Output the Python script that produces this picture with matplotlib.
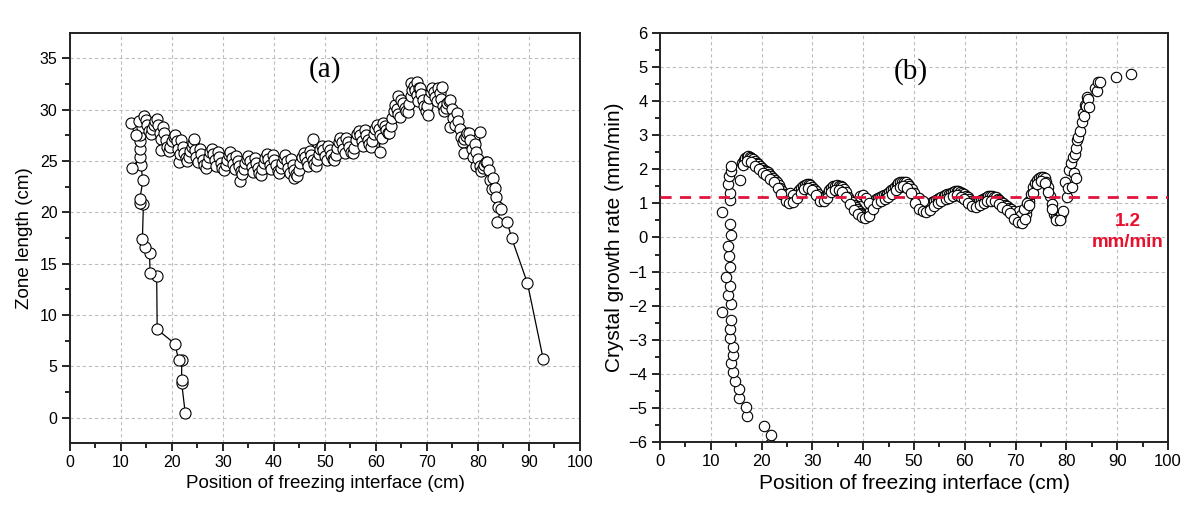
import matplotlib
matplotlib.use("Agg")
import matplotlib.pyplot as plt
from matplotlib.ticker import MultipleLocator

# ---- panel (a): zone length vs position of freezing interface (path order) ----
# left branch (bottom -> top)
zone_x = [22.6, 21.9, 21.9, 21.9, 21.3, 20.6, 17.1, 17.0, 15.7, 15.6, 14.7, 14.2,
          14.4, 13.8, 13.7, 14.3, 13.9, 12.1, 13.8, 13.8, 13.7, 13.7, 13.4, 14.2,
          13.0, 11.9, 13.6]
zone_y = [0.45, 3.4, 3.7, 5.6, 5.6, 7.2, 8.6, 13.8, 14.1, 16.0, 16.6, 17.4,
          20.8, 20.9, 21.3, 23.1, 24.6, 24.3, 25.4, 26.2, 26.9, 27.5, 28.2, 28.3,
          27.5, 28.7, 28.9]
# dense band
zone_x += [14.6, 14.9, 15.2, 15.5, 15.8, 16.1, 16.4, 16.7, 17.0, 17.3, 17.6, 17.9, 17.9,
           18.2, 18.5, 18.8, 19.1, 19.4, 19.7, 20.0, 20.3, 20.6, 20.9, 21.2, 21.3, 21.5,
           21.8, 22.1, 22.4, 22.7, 23.0, 23.3, 23.6, 23.9, 24.2, 24.4, 24.5, 24.8, 25.1,
           25.4, 25.7, 26.0, 26.3, 26.6, 26.9, 27.2, 27.5, 27.8, 28.1, 28.4, 28.7,
           29.0, 29.3, 29.6, 29.9, 30.2, 30.5, 30.8, 31.1, 31.4, 31.7, 32.0, 32.3,
           32.6, 32.9, 33.2, 33.4, 33.5, 33.8, 34.1, 34.4, 34.7, 35.0, 35.3, 35.6, 35.9,
           36.2, 36.5, 36.8, 37.1, 37.4, 37.7, 38.0, 38.3, 38.6, 38.9, 39.2, 39.5,
           39.8, 40.1, 40.4, 40.7, 41.0, 41.3, 41.6, 41.9, 42.2, 42.5, 42.8, 43.1,
           43.4, 43.7, 43.9, 44.0, 44.3, 44.6, 44.9, 45.2, 45.5, 45.8, 46.1, 46.4, 46.7,
           47.0, 47.3, 47.6, 47.6, 47.9, 48.2, 48.5, 48.8, 49.1, 49.4, 49.7, 50.0, 50.3,
           50.6, 50.9, 51.2, 51.5, 51.8, 52.1, 52.4, 52.7, 53.0, 53.3, 53.6, 53.9,
           54.2, 54.5, 54.8, 55.1, 55.4, 55.7, 56.0, 56.3, 56.6, 56.9, 57.2, 57.5,
           57.8, 58.1, 58.4, 58.7, 59.0, 59.3, 59.6, 59.9, 60.2, 60.5, 60.7, 60.8, 61.1,
           61.4, 61.7, 62.0, 62.3, 62.6, 62.9, 63.2, 63.5, 63.8, 64.1, 64.4, 64.4, 64.7,
           65.0, 65.3, 65.6, 65.9, 66.2, 66.5, 66.8, 66.8, 67.1, 67.4, 67.7, 68.0, 68.1,
           68.5, 68.3, 68.6, 68.9, 69.2, 69.5, 69.8, 70.1, 70.2, 70.4, 70.7, 71.0, 71.3,
           71.6, 71.9, 72.2, 72.5, 72.8, 72.9, 73.1, 73.4, 73.7, 74.0, 74.3, 74.6, 74.6,
           74.9, 75.2, 75.5, 75.8, 76.1, 76.4, 76.7, 77.0, 77.3, 77.3, 77.6, 77.9,
           78.2, 78.5, 78.8, 79.1, 79.4, 79.7, 79.6, 80.0, 80.3, 80.3, 80.6, 80.9,
           81.2, 81.5, 81.8, 82.1, 82.4, 82.7, 83.0, 83.3, 83.6, 83.9]
zone_y += [29.4, 29.0, 28.5, 27.9, 27.6, 28.1, 28.5, 28.9, 29.1, 28.5, 27.7, 27.1, 26.1,
           28.3, 27.7, 27.0, 26.4, 26.0, 26.4, 26.9, 27.3, 27.5, 26.9, 26.2, 24.9, 25.7,
           27.0, 26.4, 25.8, 25.3, 25.0, 25.4, 26.0, 26.4, 26.7, 27.1, 26.1, 25.4, 24.9,
           26.2, 25.7, 25.1, 24.6, 24.3, 24.8, 25.4, 25.9, 26.2, 25.7, 25.1, 24.5,
           25.9, 25.4, 24.8, 24.3, 24.1, 24.6, 25.1, 25.6, 25.9, 25.3, 24.7, 24.2,
           25.5, 25.0, 24.5, 23.0, 24.0, 23.7, 24.2, 24.8, 25.2, 25.5, 25.0, 24.4, 23.9,
           25.3, 24.8, 24.3, 23.8, 23.6, 24.2, 24.8, 25.3, 25.7, 25.2, 24.6, 24.2,
           25.6, 25.1, 24.6, 24.0, 23.8, 24.3, 24.8, 25.3, 25.6, 25.0, 24.3, 23.8,
           25.2, 24.6, 23.3, 24.1, 23.7, 23.5, 24.1, 24.8, 25.4, 25.8, 25.4, 24.9, 24.5,
           26.0, 25.6, 25.1, 27.1, 24.7, 24.5, 25.1, 25.7, 26.2, 26.5, 26.1, 25.5, 25.1,
           26.5, 26.1, 25.6, 25.2, 25.1, 25.6, 26.3, 26.8, 27.2, 26.8, 26.2, 25.8,
           27.2, 26.8, 26.4, 25.9, 25.8, 26.3, 27.0, 27.6, 27.9, 27.5, 26.9, 26.5,
           28.0, 27.5, 27.0, 26.6, 26.4, 26.9, 27.6, 28.1, 28.5, 28.1, 25.9, 27.5, 27.2,
           28.7, 28.4, 28.0, 27.7, 27.7, 28.4, 29.2, 29.9, 30.4, 30.1, 29.6, 31.3, 29.3,
           30.9, 30.6, 30.2, 29.9, 29.8, 30.5, 31.3, 32.6, 31.9, 32.3, 31.9, 31.4, 32.7,
           32.1, 30.8, 32.1, 31.5, 30.9, 30.3, 29.9, 30.3, 29.5, 31.1, 31.7, 32.1, 31.7,
           31.2, 30.8, 32.1, 31.6, 31.0, 32.2, 30.3, 29.9, 30.2, 30.6, 30.8, 30.9, 28.3,
           30.1, 29.2, 28.5, 29.7, 28.9, 28.1, 27.3, 26.8, 27.1, 25.8, 27.4, 27.7,
           27.7, 27.0, 26.2, 25.4, 26.6, 25.9, 24.5, 25.2, 24.5, 27.8, 24.0, 24.3,
           24.6, 24.9, 24.9, 24.1, 23.1, 22.3, 23.3, 22.4, 21.5, 20.5]
# right branch (top -> bottom)
zone_x += [84.5, 83.8, 85.7, 86.6, 89.7, 92.8]
zone_y += [20.3, 19.1, 19.1, 17.5, 13.1, 5.7]

# ---- panel (b): crystal growth rate ----
# left branch
rate_x = [21.6, 21.9, 20.4, 17.1, 16.9, 15.6, 15.6, 14.7, 14.3, 13.9, 14.3, 14.3,
          13.8, 13.8, 13.9, 13.9, 13.3, 13.8, 13.0, 13.8, 13.6, 13.4, 13.9, 13.8,
          12.1, 12.1, 13.7, 13.8, 13.3, 13.6, 13.9, 13.9, 15.8]
rate_y = [-6.05, -5.80, -5.53, -5.24, -4.98, -4.72, -4.46, -4.21, -3.95, -3.69, -3.46, -3.20,
          -2.96, -2.69, -2.43, -1.94, -1.68, -1.42, -1.15, -0.86, -0.55, -0.26, 0.06, 0.40,
          -2.18, 0.74, 1.09, 1.32, 1.58, 1.80, 1.95, 2.10, 1.70]
# wavy ribbon, upper strand
rate_x += [16.2, 16.5, 16.8, 17.1, 17.4, 17.7, 18.0, 18.3, 18.7, 19.0, 19.3, 19.7,
           20.1, 20.4, 20.8, 21.2, 21.5, 21.9, 22.3, 22.6, 23.0, 23.4, 23.7, 24.1,
           24.4, 24.8, 25.2, 25.5, 25.9, 26.3, 26.6, 27.0, 27.4, 27.7, 28.1, 28.5,
           28.9, 29.3, 29.6, 30.0, 30.4, 30.7, 31.1, 31.5, 31.9, 32.2, 32.6, 33.0,
           33.3, 33.7, 34.1, 34.5, 34.8, 35.2, 35.6, 35.9, 36.3, 36.7, 37.0, 37.4,
           37.7, 38.1, 38.5, 38.8, 39.2, 39.5, 39.9, 40.3, 40.7, 41.1, 41.4, 41.8,
           42.2, 42.6, 42.9, 43.3, 43.7, 44.0, 44.4, 44.7, 45.1, 45.5, 45.8, 46.2,
           46.6, 46.9, 47.3, 47.7, 48.0, 48.4, 48.8, 49.1, 49.5, 49.9, 50.3, 50.6,
           51.0, 51.4, 51.8, 52.1, 52.5, 52.9, 53.2, 53.6, 54.0, 54.3, 54.7, 55.0,
           55.4, 55.8, 56.1, 56.5, 56.9, 57.2, 57.6, 58.0, 58.4, 58.7, 59.1, 59.5,
           59.8, 60.2, 60.6, 60.9, 61.3, 61.7, 62.0, 62.4, 62.8, 63.1, 63.5, 63.9,
           64.3, 64.6, 65.0, 65.4, 65.7, 66.1, 66.5, 66.8, 67.2, 67.6, 67.9, 68.3,
           68.7, 69.0, 69.4, 69.8, 70.2, 70.5, 70.9, 71.3, 71.6, 72.0, 72.3, 72.7,
           73.1, 73.5, 73.8, 74.2, 74.6, 74.9, 75.3, 75.7, 76.0, 76.4, 76.8, 77.2,
           77.5, 77.9, 78.3, 78.6, 79.0, 79.4,
           39.4, 40.0, 40.6, 41.2, 70.6, 71.1, 71.7, 72.2, 25.6, 26.2, 51.0, 51.7]
rate_y += [2.18, 2.28, 2.34, 2.37, 2.38, 2.36, 2.33, 2.29, 2.24, 2.19, 2.15, 2.10,
           2.04, 1.99, 1.96, 1.91, 1.86, 1.81, 1.76, 1.70, 1.62, 1.54, 1.46, 1.37,
           1.28, 1.19, 1.15, 1.14, 1.15, 1.20, 1.26, 1.32, 1.39, 1.45, 1.51, 1.55,
           1.57, 1.57, 1.55, 1.49, 1.43, 1.37, 1.28, 1.19, 1.17, 1.19, 1.22, 1.30,
           1.38, 1.46, 1.50, 1.52, 1.53, 1.52, 1.50, 1.47, 1.42, 1.33, 1.20, 1.10,
           1.03, 0.96, 0.89, 0.83, 0.77, 0.72, 0.69, 0.66, 0.64, 0.68, 0.78, 0.92,
           1.07, 1.13, 1.16, 1.18, 1.21, 1.24, 1.26, 1.28, 1.33, 1.38, 1.42, 1.48,
           1.54, 1.59, 1.62, 1.64, 1.64, 1.62, 1.58, 1.52, 1.43, 1.30, 1.10, 1.01,
           0.96, 0.93, 0.91, 0.89, 0.88, 0.91, 0.97, 1.03, 1.07, 1.10, 1.14, 1.17,
           1.20, 1.23, 1.25, 1.27, 1.29, 1.31, 1.34, 1.37, 1.37, 1.36, 1.33, 1.31,
           1.27, 1.23, 1.18, 1.14, 1.08, 1.05, 1.03, 1.03, 1.06, 1.10, 1.13, 1.16,
           1.19, 1.21, 1.22, 1.21, 1.20, 1.18, 1.14, 1.10, 1.04, 1.00, 0.96, 0.93,
           0.88, 0.84, 0.78, 0.70, 0.60, 0.55, 0.51, 0.49, 0.55, 0.69, 0.86, 1.08,
           1.29, 1.47, 1.60, 1.70, 1.76, 1.78, 1.77, 1.74, 1.64, 1.47, 1.22, 0.98,
           0.70, 0.59, 0.57, 0.59, 0.66, 0.78,
           1.22, 1.26, 1.16, 1.02, 0.78, 0.66, 0.84, 1.02, 1.30, 1.24, 1.16, 1.08]
# wavy ribbon, lower strand
rate_x += [16.4, 17.2, 17.9, 18.7, 19.4, 20.2, 20.9, 21.7, 22.4, 23.2, 23.9, 24.7,
           25.4, 26.2, 26.9, 27.7, 28.4, 29.2, 29.9, 30.7, 31.4, 32.2, 32.9, 33.7,
           34.4, 35.2, 35.9, 36.7, 37.4, 38.2, 38.9, 39.7, 40.4, 41.2, 41.9, 42.7,
           43.4, 44.2, 44.9, 45.7, 46.4, 47.2, 47.9, 48.7, 49.4, 50.2, 50.9, 51.7,
           52.4, 53.2, 53.9, 54.7, 55.4, 56.2, 56.9, 57.7, 58.4, 59.2, 59.9, 60.7,
           61.4, 62.2, 62.9, 63.7, 64.4, 65.2, 65.9, 66.7, 67.4, 68.2, 68.9, 69.7,
           70.4, 71.2, 71.9, 72.7, 73.4, 74.2, 74.9, 75.7, 76.4, 77.2, 77.9, 78.7]
rate_y += [2.13, 2.24, 2.21, 2.11, 2.01, 1.90, 1.82, 1.71, 1.62, 1.45, 1.29, 1.08,
           1.01, 1.05, 1.17, 1.32, 1.41, 1.44, 1.38, 1.24, 1.08, 1.06, 1.15, 1.33,
           1.38, 1.39, 1.34, 1.20, 0.97, 0.81, 0.68, 0.60, 0.56, 0.62, 0.85, 1.02,
           1.07, 1.13, 1.19, 1.28, 1.38, 1.48, 1.51, 1.46, 1.32, 1.02, 0.84, 0.78,
           0.76, 0.81, 0.93, 1.00, 1.07, 1.13, 1.17, 1.22, 1.24, 1.19, 1.12, 1.02,
           0.93, 0.90, 0.95, 1.02, 1.07, 1.08, 1.06, 0.99, 0.89, 0.81, 0.72, 0.55,
           0.45, 0.42, 0.55, 0.95, 1.31, 1.57, 1.65, 1.61, 1.34, 0.85, 0.50, 0.50]
# right branch
rate_x += [79.7, 80.1, 80.4, 80.5, 80.8, 81.0, 81.2, 81.4, 81.6, 81.9, 81.9, 82.0,
           82.3, 82.7, 83.1, 83.3, 83.4, 83.7, 83.8, 84.1, 84.2, 84.5, 85.6, 86.0,
           86.3, 86.7, 89.7, 92.7]
rate_y += [1.62, 1.18, 1.44, 1.98, 2.19, 1.47, 2.37, 1.88, 2.45, 2.64, 1.76, 2.86,
           2.94, 3.13, 3.38, 3.64, 3.57, 3.89, 3.87, 4.13, 4.06, 3.82, 4.38, 4.31,
           4.57, 4.55, 4.70, 4.80]

line_level = 1.2

xticks = [0, 10, 20, 30, 40, 50, 60, 70, 80, 90, 100]

plt.rcParams['font.family'] = ['Liberation Sans', 'DejaVu Sans']

fig = plt.figure(figsize=(11.88, 5.08), dpi=100)
ax1 = fig.add_axes([0.0589, 0.128, 0.4293, 0.807])
ax2 = fig.add_axes([0.5556, 0.130, 0.4276, 0.805])


def style_axis(ax, tick_size):
    ax.set_xlim(0, 100)
    ax.set_xticks(xticks)
    ax.xaxis.set_minor_locator(MultipleLocator(5))
    ax.grid(True, which='major', linestyle=(0, (3, 2.5)), color='#bdbdbd', linewidth=0.8)
    ax.set_axisbelow(True)
    ax.tick_params(which='major', direction='out', length=6, width=1.2,
                   labelsize=tick_size, pad=3)
    ax.tick_params(which='minor', direction='out', length=3.5, width=1.2)
    for s in ax.spines.values():
        s.set_linewidth(1.4)
        s.set_color('#222222')


# panel (a)
ax1.plot(zone_x, zone_y, '-', color='black', linewidth=0.9, marker='o',
         markersize=8, markerfacecolor='white', markeredgecolor='black',
         markeredgewidth=0.8)
style_axis(ax1, 11.5)
ax1.set_ylim(-2.45, 37.45)
ax1.set_yticks([0, 5, 10, 15, 20, 25, 30, 35])
ax1.yaxis.set_minor_locator(MultipleLocator(2.5))
ax1.set_xlabel("Position of freezing interface (cm)", fontsize=13.5, labelpad=3)
ax1.set_ylabel("Zone length (cm)", fontsize=13.5, labelpad=5)
ax1.text(50, 33.9, "(a)", family='Liberation Serif', fontsize=21,
         ha='center', va='center')

# panel (b)
ax2.plot(rate_x, rate_y, 'o', markersize=7.5, markerfacecolor='white',
         markeredgecolor='black', markeredgewidth=0.8)
ax2.axhline(line_level, color='#e0143c', linewidth=2.0, dashes=(4, 3), zorder=3)
style_axis(ax2, 12)
ax2.set_ylim(-6, 6)
ax2.set_yticks(range(-6, 7))
ax2.yaxis.set_minor_locator(MultipleLocator(0.5))
ax2.set_xlabel("Position of freezing interface (cm)", fontsize=15, labelpad=3)
ax2.set_ylabel("Crystal growth rate (mm/min)", fontsize=15, labelpad=3)
ax2.text(49.4, 4.86, "(b)", family='Liberation Serif', fontsize=21,
         ha='center', va='center')
ax2.text(92.0, 0.15, "1.2\nmm/min", color='#e8102f', fontweight='bold',
         fontsize=13.5, ha='center', va='center', linespacing=1.3)

fig.savefig("out.png", dpi=100)
